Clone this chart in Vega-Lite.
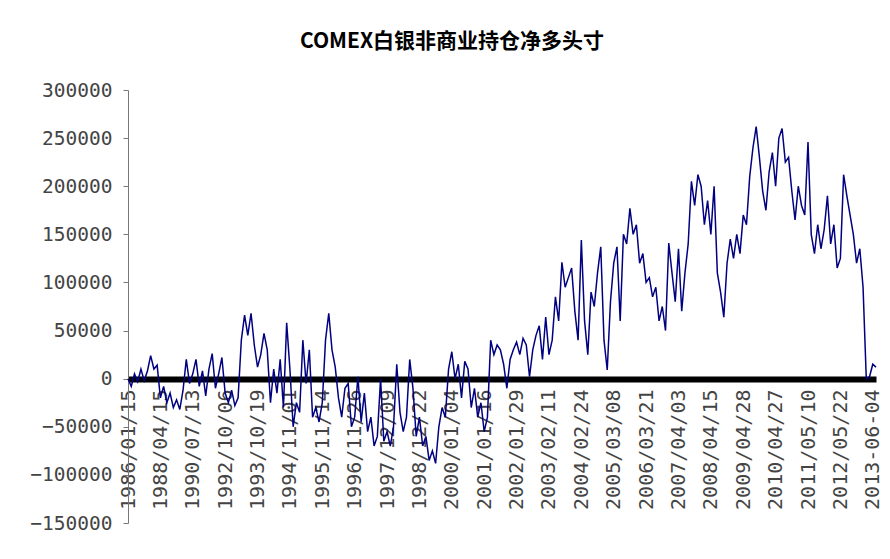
{
  "$schema": "https://vega.github.io/schema/vega-lite/v6.json",
  "width": 748,
  "height": 433,
  "autosize": {"type": "none"},
  "padding": {"left": 128, "top": 90, "right": 14, "bottom": 36},
  "background": "white",
  "title": {
    "text": "COMEX白银非商业持仓净多头寸",
    "font": "Noto Sans CJK SC",
    "fontSize": 21,
    "fontWeight": "bold",
    "color": "#000000",
    "anchor": "middle",
    "dx": -50,
    "offset": 28
  },
  "config": {"view": {"stroke": null}},
  "data": {
    "values": [
      {"i":0,"v":0},{"i":1,"v":-8000},{"i":2,"v":5000},{"i":3,"v":-3000},{"i":4,"v":10000},{"i":5,"v":-2000},{"i":6,"v":8000},{"i":7,"v":24000},{"i":8,"v":10000},{"i":9,"v":14000},
      {"i":10,"v":-20000},{"i":11,"v":-8000},{"i":12,"v":-25000},{"i":13,"v":-15000},{"i":14,"v":-30000},{"i":15,"v":-22000},{"i":16,"v":-32000},{"i":17,"v":-12000},{"i":18,"v":20000},{"i":19,"v":-5000},
      {"i":20,"v":5000},{"i":21,"v":20000},{"i":22,"v":-8000},{"i":23,"v":8000},{"i":24,"v":-18000},{"i":25,"v":10000},{"i":26,"v":26000},{"i":27,"v":-10000},{"i":28,"v":5000},{"i":29,"v":22000},
      {"i":30,"v":-15000},{"i":31,"v":-25000},{"i":32,"v":-12000},{"i":33,"v":-28000},{"i":34,"v":-20000},{"i":35,"v":40000},{"i":36,"v":66000},{"i":37,"v":45000},{"i":38,"v":68000},{"i":39,"v":35000},
      {"i":40,"v":12000},{"i":41,"v":25000},{"i":42,"v":47000},{"i":43,"v":30000},{"i":44,"v":-25000},{"i":45,"v":10000},{"i":46,"v":-15000},{"i":47,"v":20000},{"i":48,"v":-30000},{"i":49,"v":58000},
      {"i":50,"v":10000},{"i":51,"v":-50000},{"i":52,"v":-25000},{"i":53,"v":-35000},{"i":54,"v":40000},{"i":55,"v":-5000},{"i":56,"v":30000},{"i":57,"v":-40000},{"i":58,"v":-30000},{"i":59,"v":-45000},
      {"i":60,"v":-25000},{"i":61,"v":40000},{"i":62,"v":68000},{"i":63,"v":30000},{"i":64,"v":12000},{"i":65,"v":-20000},{"i":66,"v":-40000},{"i":67,"v":-10000},{"i":68,"v":-5000},{"i":69,"v":-50000},
      {"i":70,"v":-40000},{"i":71,"v":2000},{"i":72,"v":-45000},{"i":73,"v":-15000},{"i":74,"v":-55000},{"i":75,"v":-40000},{"i":76,"v":-70000},{"i":77,"v":-60000},{"i":78,"v":0},{"i":79,"v":-65000},
      {"i":80,"v":-55000},{"i":81,"v":-70000},{"i":82,"v":-50000},{"i":83,"v":15000},{"i":84,"v":-35000},{"i":85,"v":-55000},{"i":86,"v":-40000},{"i":87,"v":20000},{"i":88,"v":-10000},{"i":89,"v":-60000},
      {"i":90,"v":-40000},{"i":91,"v":-70000},{"i":92,"v":-60000},{"i":93,"v":-85000},{"i":94,"v":-75000},{"i":95,"v":-88000},{"i":96,"v":-50000},{"i":97,"v":-30000},{"i":98,"v":-40000},{"i":99,"v":10000},
      {"i":100,"v":28000},{"i":101,"v":0},{"i":102,"v":15000},{"i":103,"v":-20000},{"i":104,"v":18000},{"i":105,"v":10000},{"i":106,"v":-30000},{"i":107,"v":-10000},{"i":108,"v":-40000},{"i":109,"v":-25000},
      {"i":110,"v":-55000},{"i":111,"v":-40000},{"i":112,"v":40000},{"i":113,"v":25000},{"i":114,"v":35000},{"i":115,"v":30000},{"i":116,"v":15000},{"i":117,"v":-10000},{"i":118,"v":20000},{"i":119,"v":30000},
      {"i":120,"v":38000},{"i":121,"v":25000},{"i":122,"v":42000},{"i":123,"v":35000},{"i":124,"v":2000},{"i":125,"v":30000},{"i":126,"v":45000},{"i":127,"v":55000},{"i":128,"v":20000},{"i":129,"v":64000},
      {"i":130,"v":25000},{"i":131,"v":40000},{"i":132,"v":85000},{"i":133,"v":60000},{"i":134,"v":121000},{"i":135,"v":95000},{"i":136,"v":105000},{"i":137,"v":115000},{"i":138,"v":70000},{"i":139,"v":40000},
      {"i":140,"v":144000},{"i":141,"v":60000},{"i":142,"v":25000},{"i":143,"v":90000},{"i":144,"v":75000},{"i":145,"v":110000},{"i":146,"v":137000},{"i":147,"v":40000},{"i":148,"v":9000},{"i":149,"v":80000},
      {"i":150,"v":120000},{"i":151,"v":137000},{"i":152,"v":60000},{"i":153,"v":150000},{"i":154,"v":140000},{"i":155,"v":177000},{"i":156,"v":150000},{"i":157,"v":160000},{"i":158,"v":120000},{"i":159,"v":130000},
      {"i":160,"v":100000},{"i":161,"v":105000},{"i":162,"v":85000},{"i":163,"v":95000},{"i":164,"v":60000},{"i":165,"v":75000},{"i":166,"v":50000},{"i":167,"v":141000},{"i":168,"v":110000},{"i":169,"v":80000},
      {"i":170,"v":135000},{"i":171,"v":70000},{"i":172,"v":110000},{"i":173,"v":140000},{"i":174,"v":205000},{"i":175,"v":180000},{"i":176,"v":212000},{"i":177,"v":200000},{"i":178,"v":160000},{"i":179,"v":185000},
      {"i":180,"v":150000},{"i":181,"v":200000},{"i":182,"v":110000},{"i":183,"v":90000},{"i":184,"v":64000},{"i":185,"v":120000},{"i":186,"v":145000},{"i":187,"v":125000},{"i":188,"v":150000},{"i":189,"v":130000},
      {"i":190,"v":170000},{"i":191,"v":160000},{"i":192,"v":210000},{"i":193,"v":240000},{"i":194,"v":262000},{"i":195,"v":230000},{"i":196,"v":195000},{"i":197,"v":175000},{"i":198,"v":215000},{"i":199,"v":235000},
      {"i":200,"v":200000},{"i":201,"v":250000},{"i":202,"v":260000},{"i":203,"v":225000},{"i":204,"v":230000},{"i":205,"v":195000},{"i":206,"v":165000},{"i":207,"v":200000},{"i":208,"v":180000},{"i":209,"v":170000},
      {"i":210,"v":246000},{"i":211,"v":150000},{"i":212,"v":130000},{"i":213,"v":160000},{"i":214,"v":135000},{"i":215,"v":155000},{"i":216,"v":190000},{"i":217,"v":140000},{"i":218,"v":160000},{"i":219,"v":115000},
      {"i":220,"v":125000},{"i":221,"v":212000},{"i":222,"v":190000},{"i":223,"v":170000},{"i":224,"v":150000},{"i":225,"v":120000},{"i":226,"v":135000},{"i":227,"v":95000},{"i":228,"v":0},{"i":229,"v":2000},
      {"i":230,"v":15000},{"i":231,"v":12000}
    ]
  },
  "mark": {"type": "line", "color": "#000080", "strokeWidth": 1.5, "interpolate": "linear"},
  "encoding": {
    "x": {
      "field": "i",
      "type": "quantitative",
      "scale": {"domain": [0, 231], "nice": false, "zero": false},
      "axis": {
        "title": null,
        "orient": "bottom",
        "offset": -144,
        "values": [0,10,20,30,40,50,60,70,80,90,100,110,120,130,140,150,160,170,180,190,200,210,220,230],
        "labelExpr": "['1986/01/15','1988/04/15','1990/07/13','1992/10/06','1993/10/19','1994/11/01','1995/11/14','1996/11/26','1997/12/09','1998/12/22','2000/01/04','2001/01/16','2002/01/29','2003/02/11','2004/02/24','2005/03/08','2006/03/21','2007/04/03','2008/04/15','2009/04/28','2010/04/27','2011/05/10','2012/05/22','2013-06-04'][round(datum.value/10)]",
        "labelAngle": 270,
        "labelFont": "DejaVu Sans Mono",
        "labelFontSize": 20,
        "labelColor": "#444444",
        "labelPadding": 10,
        "labelOverlap": false,
        "labelFlush": false,
        "ticks": false,
        "grid": false,
        "domainColor": "#000000",
        "domainWidth": 6
      }
    },
    "y": {
      "field": "v",
      "type": "quantitative",
      "scale": {"domain": [-150000, 300000], "nice": false},
      "axis": {
        "title": null,
        "values": [-150000,-100000,-50000,0,50000,100000,150000,200000,250000,300000],
        "format": "d",
        "labelFont": "DejaVu Sans Mono",
        "labelFontSize": 19.5,
        "labelColor": "#444444",
        "labelPadding": 11,
        "tickSize": 5,
        "tickColor": "#777777",
        "domainColor": "#777777",
        "grid": false
      }
    }
  }
}
